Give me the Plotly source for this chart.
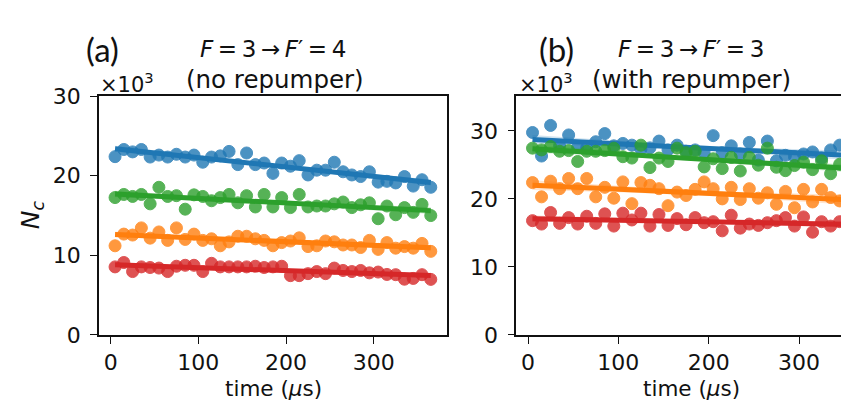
import numpy as np
import plotly.graph_objects as go

# ---------------- data (values in units of 10^3) ----------------
t_a = [5, 15, 25, 35, 45, 55, 65, 75, 85, 95, 105, 115, 125, 135, 145, 155, 165, 175, 185,
       195, 205, 215, 225, 235, 245, 255, 265, 275, 285, 295, 305, 315, 325, 335, 345, 355, 365]
blue_a = [22.4, 23.3, 23.0, 23.3, 22.35, 22.6, 22.35, 22.7, 22.35, 22.6, 21.7, 22.35, 22.5,
          23.06, 21.4, 22.86, 21.4, 21.6, 20.3, 21.6, 21.2, 21.9, 20.1, 20.7, 20.7, 21.7,
          20.5, 20.1, 19.9, 20.5, 19.2, 19.3, 19.1, 19.9, 18.7, 19.5, 18.55]
orange_a = [11.2, 12.67, 12.55, 13.45, 12.16, 12.94, 11.88, 13.45, 12.0, 12.67, 11.88, 12.08,
            11.2, 11.69, 12.4, 12.4, 12.08, 11.88, 11.2, 11.6, 11.8, 12.2, 11.1, 11.2, 11.8,
            11.7, 11.3, 11.3, 10.98, 11.88, 10.75, 11.6, 10.9, 11.1, 10.9, 11.5, 10.5]
green_a = [17.26, 17.65, 17.4, 17.65, 16.47, 18.55, 17.4, 17.5, 15.8, 17.6, 17.4, 16.86,
           17.26, 17.65, 16.6, 17.5, 16.08, 17.65, 16.08, 17.26, 16.0, 17.65, 16.08, 16.2,
           16.2, 16.47, 16.7, 16.0, 16.35, 16.6, 14.6, 16.2, 15.1, 16.0, 15.4, 16.4, 15.0]
red_a = [8.55, 9.1, 7.96, 8.55, 8.47, 8.4, 7.96, 8.63, 8.75, 8.75, 7.96, 9.0, 8.55, 8.55,
         8.55, 8.55, 8.63, 8.47, 8.55, 8.63, 7.45, 7.45, 7.7, 7.96, 7.7, 8.4, 8.1, 7.96, 8.1,
         7.8, 7.9, 7.6, 7.57, 7.0, 7.1, 7.57, 6.98]

t_b = [5, 15, 25, 35, 45, 55, 65, 75, 85, 95, 105, 115, 125, 135, 145, 155, 165, 175,
       185, 195, 205, 215, 225, 235, 245, 255, 265, 275, 285, 295, 305, 315, 325, 335, 345, 355]
blue_b = [29.76, 26.3, 30.8, 27.8, 29.4, 27.6, 27.5, 28.4, 29.6, 27.8, 28.15, 27.9, 27.3,
          27.5, 28.5, 27.2, 27.9, 27.0, 27.2, 26.8, 29.3, 26.8, 27.8, 26.6, 28.3, 25.7,
          28.5, 25.6, 26.4, 26.2, 26.6, 26.9, 26.0, 27.2, 27.9, 25.9]
orange_b = [22.4, 20.3, 22.6, 21.5, 23.0, 21.5, 23.0, 20.3, 21.7, 20.1, 22.5, 19.3, 22.4,
            22.0, 21.5, 19.0, 21.0, 20.5, 21.4, 22.5, 21.5, 20.0, 21.7, 19.9, 21.5, 20.1,
            20.9, 19.2, 21.1, 18.7, 21.4, 19.55, 21.4, 20.2, 19.7, 18.5]
green_b = [27.46, 27.2, 27.7, 27.0, 27.1, 25.5, 27.0, 27.0, 27.1, 27.46, 26.2, 26.0, 27.9,
           24.6, 26.0, 25.5, 27.46, 26.8, 27.0, 24.7, 25.9, 24.45, 26.1, 24.1, 26.1, 24.95,
           27.46, 24.65, 24.15, 24.9, 25.4, 24.3, 25.6, 23.7, 25.1, 24.2]
red_b = [16.8, 16.3, 18.0, 16.4, 17.25, 16.3, 17.45, 16.4, 17.8, 16.0, 17.9, 16.9, 17.9,
         16.0, 17.7, 16.1, 17.1, 16.2, 17.25, 16.5, 16.65, 15.3, 17.6, 15.7, 16.3, 16.1,
         16.5, 16.8, 17.25, 16.0, 17.35, 15.1, 16.65, 16.0, 16.65, 16.1]

x_ticks = [0, 100, 200, 300]
y_ticks = [0, 10, 20, 30]

colors = ["#1f77b4", "#ff7f0e", "#2ca02c", "#d62728"]
fill_rgba = ["rgba(31,119,180,0.2)", "rgba(255,127,14,0.2)",
             "rgba(44,160,44,0.2)", "rgba(214,39,40,0.2)"]

W, H = 849, 404
def px(x):
    return x / W
def py(y):
    return 1 - y / H

fig = go.Figure()

def add_panel(t, series, xa, ya):
    x = np.array(t, dtype=float)
    for s, c, fc in zip(series, colors, fill_rgba):
        y = np.array(s, dtype=float)
        # regression + 95% confidence band
        k, b = np.polyfit(x, y, 1)
        xs = np.linspace(x.min(), x.max(), 60)
        yf = k * xs + b
        res = y - (k * x + b)
        n = len(x)
        sd = np.sqrt(np.sum(res ** 2) / (n - 2))
        se = sd * np.sqrt(1 / n + (xs - x.mean()) ** 2 / np.sum((x - x.mean()) ** 2))
        band = 2.03 * se
        fig.add_trace(go.Scatter(x=x, y=y, mode="markers", xaxis=xa, yaxis=ya,
                                 marker=dict(size=12, color=c, opacity=0.8,
                                             line=dict(color=c, width=1)),
                                 showlegend=False, hoverinfo="skip"))
        fig.add_trace(go.Scatter(x=np.concatenate([xs, xs[::-1]]),
                                 y=np.concatenate([yf + band, (yf - band)[::-1]]),
                                 fill="toself", fillcolor=fc, line=dict(width=0),
                                 mode="lines", xaxis=xa, yaxis=ya,
                                 showlegend=False, hoverinfo="skip"))
        fig.add_trace(go.Scatter(x=xs, y=yf, mode="lines", xaxis=xa, yaxis=ya,
                                 line=dict(color=c, width=5),
                                 showlegend=False, hoverinfo="skip"))

add_panel(t_a, [blue_a, orange_a, green_a, red_a], "x", "y")
add_panel(t_b, [blue_b, orange_b, green_b, red_b], "x2", "y2")

axis_font = dict(family="DejaVu Sans", size=22, color="#111111")
common = dict(showgrid=False, zeroline=False, showline=True, linecolor="#111111",
              linewidth=1.6, ticks="outside", ticklen=7, tickwidth=1.4,
              tickcolor="#111111", tickfont=axis_font)

ydom = [py(335.7), py(81.2)]
fig.update_layout(
    width=W, height=H, margin=dict(l=0, r=0, t=0, b=0),
    paper_bgcolor="white", plot_bgcolor="white",
    xaxis=dict(domain=[px(91), px(439)], range=[-13.3, 383.5], anchor="y",
               tickvals=x_ticks, mirror=True, ticklabelstandoff=0, **common),
    yaxis=dict(domain=ydom, range=[0, 30], anchor="x",
               tickvals=y_ticks, mirror=True, ticklabelstandoff=5, **common),
    xaxis2=dict(domain=[px(508.3), 1.0], range=[-12.95, 364.2], anchor="y2",
                tickvals=x_ticks, mirror=True, ticklabelstandoff=0, **common),
    yaxis2=dict(domain=ydom, range=[0, 35.1], anchor="x2",
                tickvals=y_ticks, mirror=False, ticklabelstandoff=5, **common),
)

ann = []
def note(text, x, y, size=22, family="DejaVu Sans", xanchor="center", angle=0):
    ann.append(dict(text=text, x=px(x), y=py(y), xref="paper", yref="paper",
                    showarrow=False, xanchor=xanchor, yanchor="middle",
                    textangle=angle, font=dict(family=family, size=size, color="#111111")))

ts = "\u2009"
note("(a)", 94, 31, size=33, family="Lato")
note("(b)", 548, 31, size=33, family="Lato")
note(f"<i>F</i>{ts}={ts}3{ts}→{ts}<i>F</i>′{ts}={ts}4", 265, 31, size=23)
note("(no repumper)", 267, 63, size=24.5)
note(f"<i>F</i>{ts}={ts}3{ts}→{ts}<i>F</i>′{ts}={ts}3", 683, 31, size=23)
note("(with repumper)", 683, 63, size=24.5)
note("×10<sup>3</sup>", 90, 67, size=21, xanchor="left")
note("×10<sup>3</sup>", 509, 67, size=21, xanchor="left")
note("<i>N<sub>c</sub></i>", 24, 208, size=25, angle=-90)
note("time (<i>μ</i>s)", 265, 393, size=21.5)
note("time (<i>μ</i>s)", 683, 393, size=21.5)
fig.update_layout(annotations=ann)

fig.write_html("out.html")
